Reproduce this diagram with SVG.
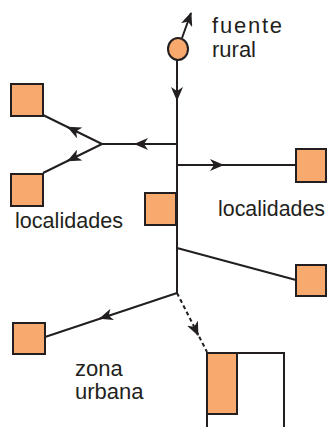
<svg xmlns="http://www.w3.org/2000/svg" width="327" height="427" viewBox="0 0 327 427">
<style>
.box{fill:#F8A96E;stroke:#231F20;stroke-width:2}
.ln{fill:none;stroke:#231F20;stroke-width:2}
.dash{fill:none;stroke:#231F20;stroke-width:2;stroke-dasharray:4 3}
.t{font-family:"Liberation Sans",Arial,sans-serif;font-size:22px;fill:#231F20}
</style>
<defs>
<marker id="ah" markerUnits="userSpaceOnUse" markerWidth="14" markerHeight="12" viewBox="0 0 14 12" refX="13" refY="6" orient="auto">
<path d="M14,6 L0,0 L4,6 L0,12 Z" fill="#231F20"/>
</marker>
</defs>
<g id="connectors">
<line class="ln" x1="182" y1="38" x2="191" y2="13" marker-end="url(#ah)"/>
<line class="ln" x1="177" y1="60" x2="177" y2="293"/>
<line class="ln" x1="177" y1="90" x2="177" y2="100" marker-end="url(#ah)"/>
<line class="ln" x1="177" y1="144" x2="102" y2="144"/>
<line class="ln" x1="145" y1="144" x2="135" y2="144" marker-end="url(#ah)"/>
<line class="ln" x1="102" y1="144" x2="43" y2="115"/>
<line class="ln" x1="77" y1="131.7" x2="68" y2="127.3" marker-end="url(#ah)"/>
<line class="ln" x1="102" y1="144" x2="43" y2="173"/>
<line class="ln" x1="77" y1="156.3" x2="68" y2="160.7" marker-end="url(#ah)"/>
<line class="ln" x1="177" y1="165" x2="296" y2="165"/>
<line class="ln" x1="213" y1="165" x2="223" y2="165" marker-end="url(#ah)"/>
<line class="ln" x1="177" y1="248" x2="296" y2="280"/>
<line class="ln" x1="177" y1="293" x2="45" y2="337"/>
<line class="ln" x1="110" y1="315.2" x2="100" y2="318.5" marker-end="url(#ah)"/>
<line class="dash" x1="177" y1="293" x2="207" y2="352"/>
<line class="ln" x1="194" y1="326.5" x2="198" y2="335" marker-end="url(#ah)"/>
<polyline class="ln" points="207,430 207,353 284,353 284,430"/>
</g>
<g id="fuente-rural">
<ellipse cx="178" cy="49" rx="10" ry="11" class="box"/>
<text class="t" x="212" y="33" textLength="70" lengthAdjust="spacing">fuente</text>
<text class="t" x="212" y="57">rural</text>
</g>
<g id="loc-left-top"><rect class="box" x="11" y="84" width="32" height="32"/></g>
<g id="loc-left-bottom"><rect class="box" x="11" y="174" width="32" height="32"/></g>
<g id="loc-left-label"><text class="t" x="15" y="228" textLength="108" lengthAdjust="spacingAndGlyphs">localidades</text></g>
<g id="loc-mid"><rect class="box" x="145" y="193" width="31" height="32"/></g>
<g id="loc-right-top"><rect class="box" x="296" y="149" width="30" height="33"/></g>
<g id="loc-right-label"><text class="t" x="218" y="216" textLength="107" lengthAdjust="spacingAndGlyphs">localidades</text></g>
<g id="loc-right-bottom"><rect class="box" x="296" y="265" width="30" height="31"/></g>
<g id="loc-bottom-left"><rect class="box" x="13" y="323" width="32" height="31"/></g>
<g id="zona-urbana">
<rect class="box" x="207" y="353" width="30" height="61"/>
<text class="t" x="75" y="376">zona</text>
<text class="t" x="75" y="399">urbana</text>
</g>
</svg>
